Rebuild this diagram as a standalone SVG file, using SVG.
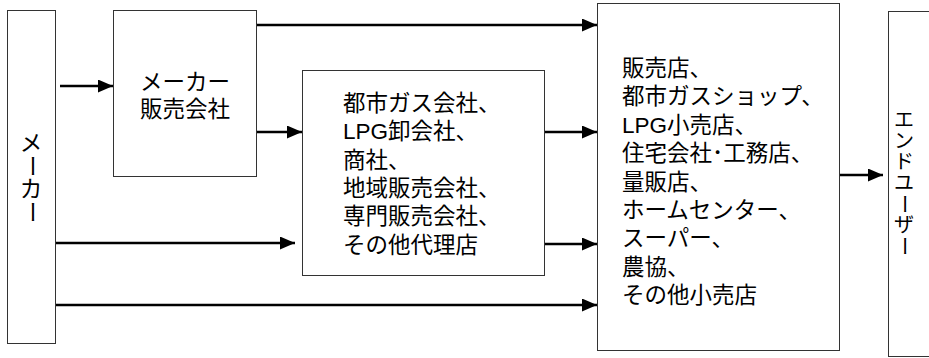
<svg xmlns="http://www.w3.org/2000/svg" width="929" height="358" viewBox="0 0 929 358">
<defs>
<style>
.box{fill:#fff;stroke:#333;stroke-width:1}
.t{font-family:"Liberation Sans","Noto Sans CJK JP",sans-serif;font-size:22.5px;fill:#000}
.s{font-size:20px}
.vc{text-anchor:middle;dominant-baseline:central}
.c{stroke:#000;stroke-width:2.5;fill:none;marker-end:url(#ah)}
</style>
<marker id="ah" markerUnits="userSpaceOnUse" markerWidth="15" markerHeight="13" refX="15" refY="6.5" orient="auto">
<path d="M0,0 L15,6.5 L0,13 z" fill="#000"/>
</marker>
</defs>
<rect width="929" height="358" fill="#fff"/>
<g id="maker">
<rect class="box" x="7.5" y="10.5" width="48" height="333"/>
<text class="t vc" x="31" y="143">メ</text>
<text class="t vc" transform="translate(31,166) rotate(90)">ー</text>
<text class="t vc" x="31" y="189">カ</text>
<text class="t vc" transform="translate(31,212) rotate(90)">ー</text>
</g>
<g id="maker-sales">
<rect class="box" x="113.5" y="10.5" width="143" height="166"/>
<text class="t" x="185" y="90" text-anchor="middle">メーカー</text>
<text class="t" x="185" y="117" text-anchor="middle">販売会社</text>
</g>
<g id="wholesale">
<rect class="box" x="302.5" y="70.5" width="242" height="205"/>
<text class="t" x="343" y="111"><tspan x="343">都市ガス会社、</tspan><tspan x="343" dy="28.3">LPG卸会社、</tspan><tspan x="343" dy="28.3">商社、</tspan><tspan x="343" dy="28.3">地域販売会社、</tspan><tspan x="343" dy="28.3">専門販売会社、</tspan><tspan x="343" dy="28.3">その他代理店</tspan></text>
</g>
<g id="retail">
<rect class="box" x="597.5" y="3.5" width="242" height="347"/>
<text class="t" x="622" y="76"><tspan x="622">販売店、</tspan><tspan x="622" dy="28.4">都市ガスショップ、</tspan><tspan x="622" dy="28.4">LPG小売店、</tspan><tspan x="622" dy="28.4">住宅会社･工務店、</tspan><tspan x="622" dy="28.4">量販店、</tspan><tspan x="622" dy="28.4">ホームセンター、</tspan><tspan x="622" dy="28.4">スーパー、</tspan><tspan x="622" dy="28.4">農協、</tspan><tspan x="622" dy="28.4">その他小売店</tspan></text>
</g>
<g id="enduser">
<rect class="box" x="888.5" y="11.5" width="60" height="345"/>
<text class="t s vc" x="904" y="120">エ</text>
<text class="t s vc" x="904" y="141">ン</text>
<text class="t s vc" x="904" y="162">ド</text>
<text class="t s vc" x="904" y="183">ユ</text>
<text class="t s vc" transform="translate(904,204) rotate(90)">ー</text>
<text class="t s vc" x="904" y="225">ザ</text>
<text class="t s vc" transform="translate(904,246) rotate(90)">ー</text>
</g>
<g id="connectors">
<line class="c" x1="60" y1="86" x2="113" y2="86"/>
<line class="c" x1="257" y1="25" x2="597" y2="25"/>
<line class="c" x1="257" y1="132" x2="302" y2="132"/>
<line class="c" x1="56" y1="243" x2="295" y2="243"/>
<line class="c" x1="56" y1="305" x2="597" y2="305"/>
<line class="c" x1="545" y1="132" x2="597" y2="132"/>
<line class="c" x1="545" y1="244" x2="597" y2="244"/>
<line class="c" x1="840" y1="175" x2="883" y2="175"/>
</g>
</svg>
